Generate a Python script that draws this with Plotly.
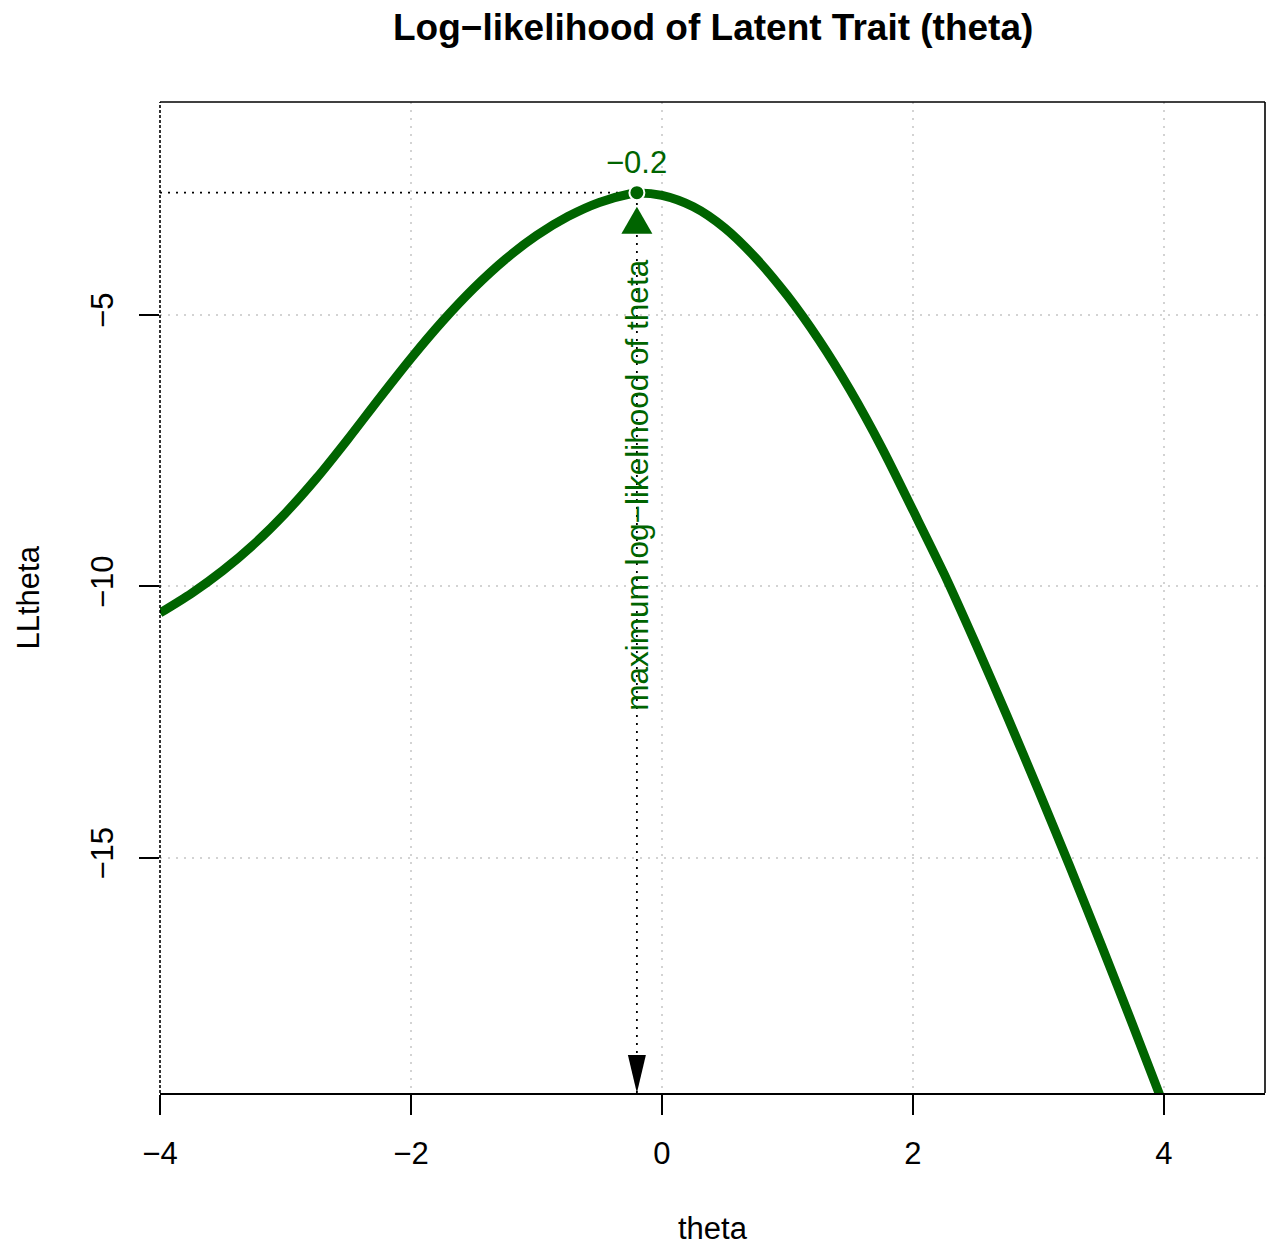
import plotly.graph_objects as go

# ---- data ----
theta = [-4.0, -3.75, -3.5, -3.25, -3.0, -2.75, -2.5, -2.25, -2.0, -1.75, -1.5,
         -1.25, -1.0, -0.75, -0.5, -0.25, -0.2, 0.0, 0.25, 0.5, 0.75, 1.0, 1.25,
         1.5, 1.75, 2.0, 2.25, 2.5, 2.75, 3.0, 3.25, 3.5, 3.75, 4.0]
LLtheta = [-10.49, -10.13, -9.71, -9.22, -8.65, -8.00, -7.28, -6.53, -5.80, -5.12,
           -4.51, -3.98, -3.54, -3.19, -2.93, -2.77, -2.755, -2.80, -3.01, -3.40,
           -3.96, -4.65, -5.46, -6.39, -7.44, -8.60, -9.78, -11.06, -12.39, -13.76,
           -15.16, -16.60, -18.07, -19.57]
peak_theta = -0.2
peak_LL = -2.75
peak_label = "\u22120.2"
x_ticks = [-4, -2, 0, 2, 4]
x_ticktext = ["\u22124", "\u22122", "0", "2", "4"]
y_ticks = [-5, -10, -15]
y_ticktext = ["\u22125", "\u221210", "\u221215"]
x_range = [-4.0, 4.805]
y_range = [-19.33, -1.08]

GREEN = "#006400"
FONT = "Liberation Sans, Arial, sans-serif"

fig = go.Figure()

# dotted guide lines to the maximum
fig.add_trace(go.Scatter(x=[x_range[0], peak_theta], y=[peak_LL, peak_LL], mode="lines",
                         line=dict(color="black", width=1.8, dash="2px,6px"),
                         hoverinfo="skip", showlegend=False))
fig.add_trace(go.Scatter(x=[peak_theta, peak_theta], y=[y_range[0], peak_LL], mode="lines",
                         line=dict(color="black", width=1.8, dash="2px,6px"),
                         hoverinfo="skip", showlegend=False))

# the curve
fig.add_trace(go.Scatter(x=theta, y=LLtheta, mode="lines",
                         line=dict(color=GREEN, width=9, shape="spline", smoothing=0.8),
                         showlegend=False, cliponaxis=True))

# peak point
fig.add_trace(go.Scatter(x=[peak_theta], y=[peak_LL], mode="markers",
                         marker=dict(color=GREEN, size=15, line=dict(color="white", width=2)),
                         showlegend=False, cliponaxis=False))

# arrowheads (green up under the peak, black narrow down at the bottom)
px_x = (x_range[1] - x_range[0]) / 1105.0
px_y = (y_range[1] - y_range[0]) / 991.0
tri_top = peak_LL - 14 * px_y
tri_bot = peak_LL - 41 * px_y
hw = 15.5 * px_x
shapes = [
    dict(type="path", xref="x", yref="y",
         path=f"M {peak_theta - hw} {tri_bot} L {peak_theta + hw} {tri_bot} L {peak_theta} {tri_top} Z",
         fillcolor=GREEN, line=dict(width=0)),
    dict(type="path", xref="x", yref="y",
         path=(f"M {peak_theta - 9 * px_x} {y_range[0] + 38 * px_y} "
               f"L {peak_theta + 9 * px_x} {y_range[0] + 38 * px_y} "
               f"L {peak_theta} {y_range[0]} Z"),
         fillcolor="black", line=dict(width=0)),
    # box: top, right solid; left dashed
    dict(type="line", xref="paper", yref="paper", x0=0, x1=1, y0=1, y1=1,
         line=dict(color="black", width=1.6)),
    dict(type="line", xref="paper", yref="paper", x0=1, x1=1, y0=0, y1=1,
         line=dict(color="black", width=1.6)),
    dict(type="line", xref="paper", yref="paper", x0=0, x1=0, y0=0, y1=1,
         line=dict(color="black", width=1.6, dash="3px,2px")),
]

annotations = [
    dict(x=peak_theta, y=peak_LL, xref="x", yref="y", text=peak_label, showarrow=False,
         font=dict(family=FONT, size=31, color=GREEN), yshift=30, yanchor="middle"),
    dict(x=peak_theta, y=-8.13, xref="x", yref="y", text="maximum log\u2212likelihood of theta",
         showarrow=False, textangle=-90, font=dict(family=FONT, size=31.5, color=GREEN),
         xanchor="center", yanchor="middle"),
    dict(x=0.5, y=0, xref="paper", yref="paper", text="theta", showarrow=False,
         font=dict(family=FONT, size=31, color="black"), yshift=-135, yanchor="middle"),
    dict(x=0, y=0.5, xref="paper", yref="paper", text="LLtheta", showarrow=False,
         textangle=-90, font=dict(family=FONT, size=31, color="black"),
         xshift=-132, xanchor="center", yanchor="middle"),
    dict(x=0.5, y=1, xref="paper", yref="paper",
         text="<b>Log\u2212likelihood of Latent Trait (theta)</b>", showarrow=False,
         font=dict(family=FONT, size=37, color="black"), yshift=75, yanchor="middle"),
]

fig.update_layout(
    width=1270, height=1249,
    margin=dict(l=160, r=5, t=102, b=156),
    paper_bgcolor="white", plot_bgcolor="white",
    font=dict(family=FONT, size=31, color="black"),
    shapes=shapes, annotations=annotations, showlegend=False,
    xaxis=dict(range=x_range, tickvals=x_ticks, ticktext=x_ticktext,
               showgrid=True, gridcolor="#D3D3D3", griddash="2px,6px", gridwidth=1.8,
               zeroline=False, showline=True, linecolor="black", linewidth=1.6,
               ticks="outside", ticklen=20, tickwidth=1.6, tickcolor="black",
               ticklabelstandoff=12, tickfont=dict(family=FONT, size=31)),
    yaxis=dict(range=y_range, tickvals=y_ticks, ticktext=y_ticktext,
               showgrid=True, gridcolor="#D3D3D3", griddash="2px,6px", gridwidth=1.8,
               zeroline=False, showline=False,
               ticks="outside", ticklen=20, tickwidth=1.6, tickcolor="black",
               tickangle=-90, ticklabelstandoff=14, tickfont=dict(family=FONT, size=31)),
)

fig.write_html("out.html")
